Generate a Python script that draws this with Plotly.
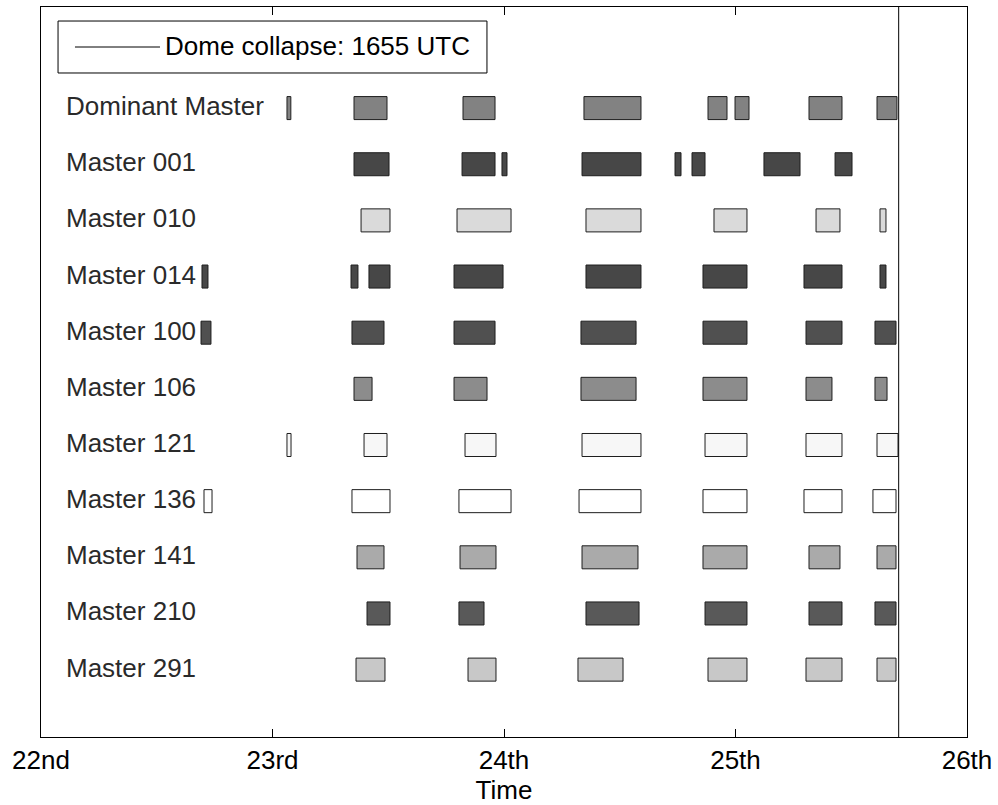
import plotly.graph_objects as go

# Observation windows per station: (start, end) in hours after 00:00 UTC on the 22nd
dominant_master = [(25.5, 25.9), (32.45, 35.87), (43.75, 47.07), (56.29, 62.2),
                   (69.15, 71.12), (71.95, 73.4), (79.62, 83.04), (86.67, 88.74)]
master_001 = [(32.45, 36.08), (43.65, 47.07), (47.79, 48.31), (56.09, 62.2),
              (65.73, 66.35), (67.49, 68.84), (74.95, 78.69), (82.32, 84.08)]
master_010 = [(33.18, 36.18), (43.13, 48.73), (56.5, 62.2), (69.77, 73.19),
              (80.35, 82.83), (86.98, 87.6)]
master_014 = [(16.69, 17.31), (32.14, 32.86), (34.0, 36.18), (42.82, 47.9),
              (56.5, 62.2), (68.63, 73.19), (79.1, 83.04), (86.98, 87.6)]
master_100 = [(16.59, 17.62), (32.24, 35.56), (42.82, 47.07), (55.98, 61.69),
              (68.63, 73.19), (79.31, 83.04), (86.46, 88.64)]
master_106 = [(32.45, 34.32), (42.82, 46.24), (55.98, 61.69), (68.63, 73.19),
              (79.31, 82.0), (86.46, 87.71)]
master_121 = [(25.5, 25.92), (33.49, 35.87), (43.96, 47.17), (56.09, 62.2),
              (68.84, 73.19), (79.31, 83.04), (86.67, 88.85)]
master_136 = [(16.9, 17.73), (32.24, 36.18), (43.33, 48.73), (55.78, 62.2),
              (68.63, 73.19), (79.1, 83.04), (86.25, 88.64)]
master_141 = [(32.76, 35.56), (43.44, 47.17), (56.09, 61.89), (68.63, 73.19),
              (79.62, 82.83), (86.67, 88.64)]
master_210 = [(33.8, 36.18), (43.33, 45.93), (56.5, 62.0), (68.84, 73.19),
              (79.62, 83.04), (86.46, 88.64)]
master_291 = [(32.66, 35.66), (44.27, 47.17), (55.67, 60.34), (69.15, 73.19),
              (79.31, 83.04), (86.67, 88.64)]

station_names = ["Dominant Master", "Master 001", "Master 010", "Master 014",
                 "Master 100", "Master 106", "Master 121", "Master 136",
                 "Master 141", "Master 210", "Master 291"]
station_windows = [dominant_master, master_001, master_010, master_014,
                   master_100, master_106, master_121, master_136,
                   master_141, master_210, master_291]
station_colors = ["#828282", "#474747", "#dadada", "#474747", "#505050",
                  "#8c8c8c", "#f7f7f7", "#ffffff", "#aaaaaa", "#595959",
                  "#c8c8c8"]

day_ticks = [0, 24, 48, 72, 96]
day_labels = ["22nd", "23rd", "24th", "25th", "26th"]

collapse_hour = 72 + 16 + 55 / 60  # 1655 UTC on the 25th
collapse_label = "Dome collapse: 1655 UTC"

FONT = "Liberation Sans, Arial, sans-serif"
Y_RANGE = [11.2, -1.8]

fig = go.Figure()

for row, (name, windows, color) in enumerate(zip(station_names, station_windows, station_colors)):
    starts = [w[0] for w in windows]
    lengths = [w[1] - w[0] for w in windows]
    fig.add_trace(go.Bar(
        orientation="h",
        base=starts,
        x=lengths,
        y=[row] * len(windows),
        width=0.41,
        marker=dict(color=color, line=dict(color="#1e1e1e", width=1)),
        name=name,
        showlegend=False,
    ))
    fig.add_annotation(
        x=2.35, y=row, xref="x", yref="y",
        text=name, showarrow=False,
        xanchor="left", yanchor="middle", yshift=2,
        font=dict(family=FONT, size=26, color="#2a2a2a"),
    )

fig.add_trace(go.Scatter(
    x=[collapse_hour, collapse_hour], y=Y_RANGE,
    mode="lines", line=dict(color="black", width=1),
    name=collapse_label, showlegend=False,
))

# Legend box for the collapse marker, drawn in paper coordinates
fig.add_shape(type="rect", xref="paper", yref="paper",
              x0=0.0184, x1=0.4816, y0=0.9096, y1=0.9808,
              line=dict(color="black", width=1), fillcolor="white", layer="above")
fig.add_shape(type="line", xref="paper", yref="paper",
              x0=0.0367, x1=0.1285, y0=0.9452, y1=0.9452,
              line=dict(color="black", width=1), layer="above")
fig.add_annotation(x=0.1317, y=0.9452, xref="paper", yref="paper",
                   text=collapse_label, showarrow=False,
                   xanchor="left", yanchor="middle", yshift=1,
                   font=dict(family=FONT, size=26, color="black"))

fig.update_layout(
    width=998, height=805,
    margin=dict(l=41, r=31, t=7, b=68, autoexpand=False),
    paper_bgcolor="white", plot_bgcolor="white",
    barmode="overlay",
    showlegend=False,
    font=dict(family=FONT, size=26, color="black"),
    xaxis=dict(
        range=[0, 96], tickvals=day_ticks, ticktext=day_labels,
        ticks="inside", ticklen=8, tickcolor="black",
        showline=True, linecolor="black", linewidth=1, mirror="ticks",
        showgrid=False, zeroline=False, automargin=False,
        tickfont=dict(family=FONT, size=26, color="black"),
        title=dict(text="Time", font=dict(family=FONT, size=26, color="black"), standoff=9),
    ),
    yaxis=dict(
        range=Y_RANGE, showticklabels=False, ticks="",
        showline=True, linecolor="black", linewidth=1, mirror=True,
        showgrid=False, zeroline=False, automargin=False,
    ),
)

fig.write_html("out.html")
